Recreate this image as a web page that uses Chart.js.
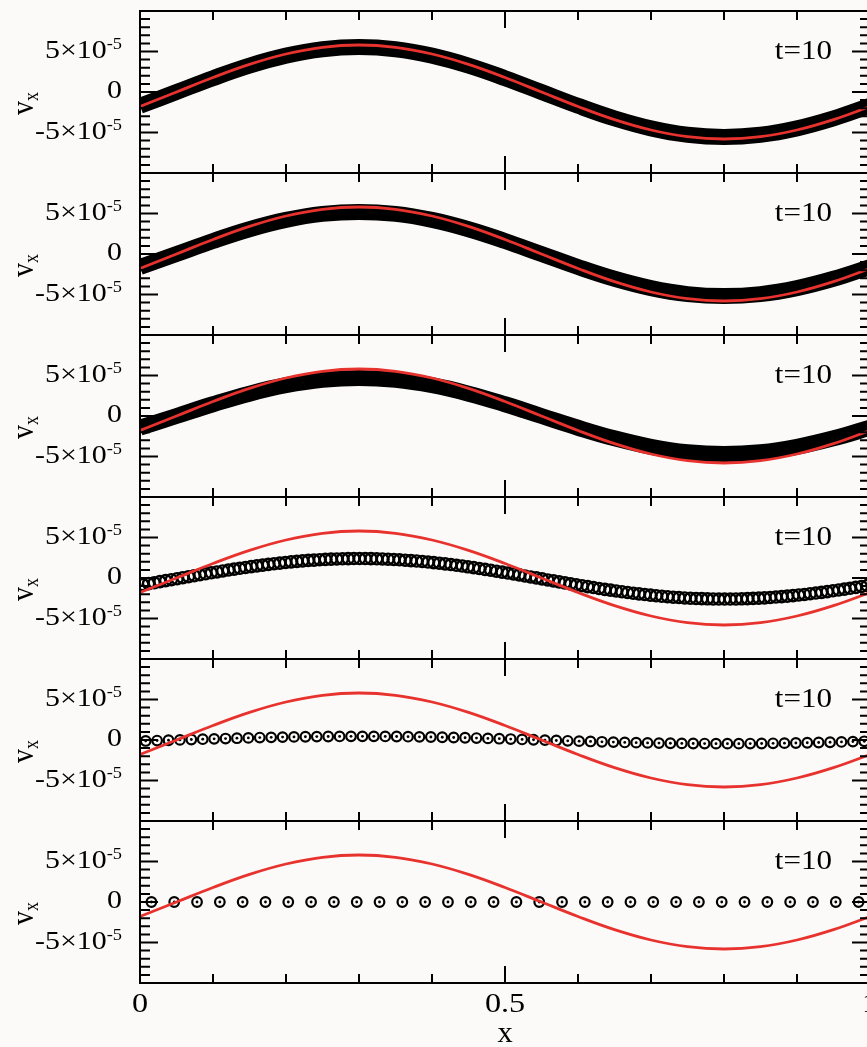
<!DOCTYPE html>
<html>
<head>
<meta charset="utf-8">
<script src="https://cdn.jsdelivr.net/npm/chart.js@4.4.1/dist/chart.umd.min.js"></script>
<style>
html, body { margin: 0; padding: 0; background: #fbfaf8; overflow: hidden; }
#wrap { position: relative; width: 867px; height: 1047px; overflow: hidden; }
#wrap canvas { position: absolute; left: 0; }
</style>
</head>
<body>
<div id="wrap"></div>
<script>
// --- DATA (v_x in units of 1e-5) ---
const xCurve = [0, 0.05, 0.1, 0.15, 0.2, 0.25, 0.3, 0.35, 0.4, 0.45, 0.5,
                0.55, 0.6, 0.65, 0.7, 0.75, 0.8, 0.85, 0.9, 0.95, 1];

// red reference curve
const exact = [-1.79, 0, 1.79, 3.41, 4.69, 5.52, 5.8, 5.52, 4.69, 3.41, 1.79,
               0, -1.79, -3.41, -4.69, -5.52, -5.8, -5.52, -4.69, -3.41, -1.79];

// dense runs, drawn as a solid black band
const band1 = [-1.71, 0, 1.71, 3.26, 4.49, 5.28, 5.55, 5.28, 4.49, 3.26, 1.71,
               0, -1.71, -3.26, -4.49, -5.28, -5.55, -5.28, -4.49, -3.26, -1.71];
const band2 = [-1.61, 0, 1.61, 3.06, 4.21, 4.95, 5.2, 4.95, 4.21, 3.06, 1.61,
               0, -1.61, -3.06, -4.21, -4.95, -5.2, -4.95, -4.21, -3.06, -1.61];
const band3 = [-1.45, 0, 1.45, 2.76, 3.80, 4.47, 4.7, 4.47, 3.80, 2.76, 1.45,
               0, -1.45, -2.76, -3.80, -4.47, -4.7, -4.47, -3.80, -2.76, -1.45];

// cell values drawn as circles
const run4 = [
  -0.81, -0.70, -0.58, -0.45, -0.33, -0.21, -0.09, 0.04, 0.16, 0.28,
  0.40, 0.52, 0.64, 0.75, 0.87, 0.98, 1.09, 1.20, 1.30, 1.40,
  1.50, 1.59, 1.68, 1.76, 1.84, 1.92, 1.99, 2.05, 2.11, 2.17,
  2.21, 2.26, 2.30, 2.33, 2.35, 2.37, 2.39, 2.40, 2.40, 2.40,
  2.39, 2.37, 2.35, 2.32, 2.29, 2.25, 2.20, 2.15, 2.10, 2.04,
  1.97, 1.90, 1.83, 1.74, 1.66, 1.57, 1.48, 1.38, 1.28, 1.17,
  1.07, 0.96, 0.84, 0.73, 0.61, 0.50, 0.38, 0.25, 0.13, 0.01,
  -0.11, -0.24, -0.36, -0.48, -0.60, -0.72, -0.84, -0.95, -1.07, -1.18,
  -1.29, -1.40, -1.50, -1.60, -1.70, -1.79, -1.88, -1.96, -2.04, -2.12,
  -2.19, -2.25, -2.31, -2.37, -2.41, -2.46, -2.50, -2.53, -2.55, -2.57,
  -2.59, -2.60, -2.60, -2.60, -2.59, -2.57, -2.55, -2.52, -2.49, -2.45,
  -2.40, -2.35, -2.30, -2.24, -2.17, -2.10, -2.03, -1.94, -1.86, -1.77,
  -1.68, -1.58, -1.48, -1.37, -1.27, -1.16, -1.05, -0.93
];
const run5 = [
  -0.12, -0.07, -0.03, 0.01, 0.06, 0.10, 0.14, 0.18, 0.22, 0.26,
  0.30, 0.33, 0.36, 0.38, 0.40, 0.42, 0.43, 0.44, 0.45, 0.45,
  0.45, 0.44, 0.43, 0.41, 0.39, 0.37, 0.34, 0.31, 0.28, 0.24,
  0.20, 0.16, 0.12, 0.07, 0.03, -0.01, -0.06, -0.10, -0.14, -0.18,
  -0.22, -0.26, -0.30, -0.33, -0.36, -0.38, -0.40, -0.42, -0.43, -0.44,
  -0.45, -0.45, -0.45, -0.44, -0.43, -0.41, -0.39, -0.37, -0.34, -0.31,
  -0.28, -0.24, -0.20, -0.16
];
const run6 = [
  0, 0, 0, 0, 0, 0, 0, 0, 0, 0, 0, 0, 0, 0, 0, 0,
  0, 0, 0, 0, 0, 0, 0, 0, 0, 0, 0, 0, 0, 0, 0, 0
];

const panelTimes = ['t=10', 't=10', 't=10', 't=10', 't=10', 't=10'];

// ticks
const xMajorTicks = [0.5];
const xMinorTicks = [0.1, 0.2, 0.3, 0.4, 0.6, 0.7, 0.8, 0.9];
const xLabelValues = [0, 0.5, 1];
const xLabelText = ['0', '0.5', '1'];
const yMajorTicks = [-5, 0, 5];
const yMinorTicks = [-9, -8, -7, -6, -4, -3, -2, -1, 1, 2, 3, 4, 6, 7, 8, 9];
const yLabelValues = [5, 0, -5];
const yLabelText = ['5×10', '0', '-5×10'];
const yLabelSup = ['-5', '', '-5'];

// --- LAYOUT ---
const PANEL_TOP = 11;
const PANEL_H = 162;
const PAD = 12;
const SERIF = '"Liberation Serif", "Times New Roman", serif';
const SX = 1.15; // the original lettering is a bit wide

const panels = [
  { band: band1 }, { band: band2 }, { band: band3 },
  { rings: run4, r: 5.6, bw: 2.4 }, { rings: run5, r: 4.8, bw: 2.2 }, { rings: run6, r: 4.8, bw: 2.2 }
];

function cellPoints(vals) {
  const n = vals.length;
  return vals.map((v, i) => ({ x: (i + 0.5) / n, y: v }));
}

function wideText(ctx, parts, x, baseline, align) {
  let w = 0;
  parts.forEach(p => { ctx.font = p.font; w += ctx.measureText(p.t).width * SX; });
  let pos = align === 'right' ? x - w : (align === 'center' ? x - w / 2 : x);
  parts.forEach(p => {
    ctx.font = p.font;
    ctx.save();
    ctx.translate(pos, baseline + (p.dy || 0));
    ctx.scale(SX, 1);
    ctx.fillText(p.t, 0, 0);
    ctx.restore();
    pos += ctx.measureText(p.t).width * SX;
  });
}

const frameTicks = {
  id: 'frameTicks',
  afterDatasetsDraw(chart, args, opts) {
    const { ctx, chartArea: a, scales: { x, y } } = chart;
    ctx.save();
    ctx.strokeStyle = '#000';
    ctx.fillStyle = '#000';
    ctx.lineWidth = 2;
    ctx.strokeRect(a.left, a.top, a.right - a.left, a.bottom - a.top);

    ctx.beginPath();
    const xt = (v, len) => {
      const px = x.getPixelForValue(v);
      ctx.moveTo(px, a.bottom); ctx.lineTo(px, a.bottom - len);
      ctx.moveTo(px, a.top); ctx.lineTo(px, a.top + len);
    };
    const yt = (v, len) => {
      const py = y.getPixelForValue(v);
      ctx.moveTo(a.left, py); ctx.lineTo(a.left + len, py);
      ctx.moveTo(a.right, py); ctx.lineTo(a.right - len, py);
    };
    xMajorTicks.forEach(v => xt(v, 17));
    xMinorTicks.forEach(v => xt(v, 9));
    yMajorTicks.forEach(v => yt(v, 18));
    yMinorTicks.forEach(v => yt(v, 10));
    ctx.stroke();

    ctx.textBaseline = 'alphabetic';
    ctx.textAlign = 'left';
    yLabelValues.forEach((v, i) => {
      const py = y.getPixelForValue(v);
      const parts = [{ t: yLabelText[i], font: '26px ' + SERIF }];
      if (yLabelSup[i]) parts.push({ t: yLabelSup[i], font: '16px ' + SERIF, dy: -9 });
      wideText(ctx, parts, a.left - 18, py + 6, 'right');
    });

    // v_x, rotated
    ctx.save();
    ctx.translate(33, a.top + 104);
    ctx.rotate(-Math.PI / 2);
    ctx.scale(1, SX);
    ctx.font = '28px ' + SERIF;
    ctx.fillText('v', 0, 0);
    const vw = ctx.measureText('v').width;
    ctx.font = '18px ' + SERIF;
    ctx.fillText('x', vw, 4);
    ctx.restore();

    wideText(ctx, [{ t: opts.time, font: '27px ' + SERIF }], 832, a.top + 48, 'right');

    if (opts.last) {
      xLabelValues.forEach((v, i) => {
        wideText(ctx, [{ t: xLabelText[i], font: '28px ' + SERIF }],
                 x.getPixelForValue(v), a.bottom + 29, 'center');
      });
      ctx.save();
      ctx.font = '29px ' + SERIF;
      ctx.textAlign = 'center';
      ctx.translate(x.getPixelForValue(0.5), a.bottom + 59);
      ctx.scale(1.05, 1);
      ctx.fillText('x', 0, 0);
      ctx.restore();
    }
    ctx.restore();
  }
};

const wrap = document.getElementById('wrap');

panels.forEach((p, k) => {
  const last = k === panels.length - 1;
  const top = PANEL_TOP + k * PANEL_H - PAD;
  const padBottom = last ? 1047 - (PANEL_TOP + (k + 1) * PANEL_H) : PAD;
  const h = PAD + PANEL_H + padBottom;

  const canvas = document.createElement('canvas');
  canvas.width = 880;
  canvas.height = h;
  canvas.style.width = '880px';
  canvas.style.height = h + 'px';
  canvas.style.top = top + 'px';
  wrap.appendChild(canvas);

  const datasets = [{
    data: xCurve.map((xv, i) => ({ x: xv, y: exact[i] })),
    showLine: true,
    borderColor: '#e8322e',
    borderWidth: 2.8,
    pointRadius: 0,
    tension: 0.4,
    order: 0
  }];

  if (p.band) {
    datasets.push({
      data: xCurve.map((xv, i) => ({ x: xv, y: p.band[i] })),
      showLine: true,
      borderColor: '#000',
      borderWidth: 16,
      pointRadius: 0,
      tension: 0.4,
      order: 2
    });
  } else {
    const pts = cellPoints(p.rings);
    datasets.push({
      data: pts,
      showLine: false,
      pointRadius: p.r,
      pointBorderWidth: p.bw,
      pointBorderColor: '#000',
      pointBackgroundColor: 'rgba(0,0,0,0)',
      order: 2
    });
    datasets.push({
      data: pts,
      showLine: false,
      pointRadius: 1.4,
      pointBorderWidth: 0,
      pointBackgroundColor: '#000',
      order: 1
    });
  }

  new Chart(canvas.getContext('2d'), {
    type: 'scatter',
    data: { datasets },
    options: {
      responsive: false,
      animation: false,
      devicePixelRatio: 1,
      events: [],
      layout: { padding: { left: 140, right: 10, top: PAD, bottom: padBottom } },
      scales: {
        x: { type: 'linear', min: 0, max: 1, display: false },
        y: { type: 'linear', min: -10, max: 10, display: false }
      },
      plugins: {
        legend: { display: false },
        tooltip: { enabled: false },
        frameTicks: { time: panelTimes[k], last }
      }
    },
    plugins: [frameTicks]
  });
});
</script>
</body>
</html>
